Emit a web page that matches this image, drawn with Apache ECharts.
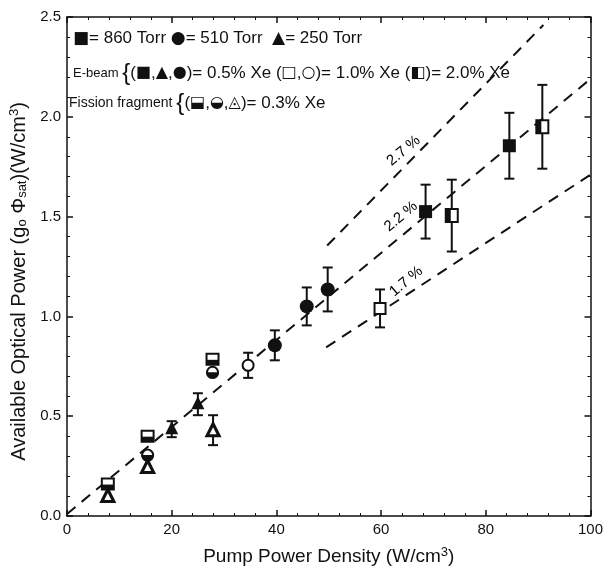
<!DOCTYPE html>
<html><head><meta charset="utf-8">
<script src="https://cdn.jsdelivr.net/npm/echarts@6/dist/echarts.min.js"></script>
<style>html,body{margin:0;padding:0;background:#fff}#c{width:606px;height:571px}</style>
</head><body><div id="c"></div>
<script>
// ---- data ----
// [x, y, errorHalfHeight]
const ebeamSquareFilled = [[68.5, 1.525, 0.135], [84.5, 1.855, 0.165]];      // 860 Torr, 0.5% Xe
const ebeamSquareOpen   = [[59.8, 1.04, 0.095]];                               // 860 Torr, 1.0% Xe
const ebeamSquareHalf   = [[73.5, 1.505, 0.18], [90.8, 1.95, 0.21]];          // 860 Torr, 2.0% Xe
const ebeamCircleFilled = [[39.7, 0.855, 0.075], [45.8, 1.05, 0.095], [49.8, 1.135, 0.11]]; // 510 Torr, 0.5%
const ebeamCircleOpen   = [[34.6, 0.755, 0.063]];                              // 510 Torr, 1.0%
const ebeamTriFilled    = [[20.0, 0.435, 0.04], [25.0, 0.56, 0.055]];          // 250 Torr, 0.5%
const fissionSquare     = [[7.8, 0.16, 0], [15.4, 0.40, 0], [27.8, 0.785, 0]];
const fissionCircle     = [[15.4, 0.305, 0], [27.8, 0.72, 0]];
const fissionTriangle   = [[7.8, 0.10, 0], [15.4, 0.245, 0], [27.9, 0.43, 0.075]];
// efficiency guide lines (end points)
const line27 = [[49.7, 1.355], [91, 2.46]];
const line22 = [[0, 0.01], [100, 2.19]];
const line17 = [[49.5, 0.845], [100, 1.71]];
// line labels [x, y, text]
const lineLabels = [[64.3, 1.83, '2.7 %'], [63.8, 1.50, '2.2 %'], [64.8, 1.175, '1.7 %']];
const xTicks = [0, 20, 40, 60, 80, 100];
const yTicks = ['0.0', '0.5', '1.0', '1.5', '2.0', '2.5'];

const FONT = '"Liberation Sans", Arial, sans-serif';
const SYMFONT = '"DejaVu Sans", sans-serif';
const INK = '#111';

function makeRender(kind) {
  return function (params, api) {
    const x = api.value(0), y = api.value(1), e = api.value(2);
    const c = api.coord([x, y]);
    const children = [];
    if (e > 0) {
      const top = api.coord([x, y + e]), bot = api.coord([x, y - e]);
      const cw = 5;
      children.push({type: 'line', shape: {x1: c[0], y1: top[1], x2: c[0], y2: bot[1]}, style: {stroke: INK, lineWidth: 2}});
      children.push({type: 'line', shape: {x1: c[0] - cw, y1: top[1], x2: c[0] + cw, y2: top[1]}, style: {stroke: INK, lineWidth: 2}});
      children.push({type: 'line', shape: {x1: c[0] - cw, y1: bot[1], x2: c[0] + cw, y2: bot[1]}, style: {stroke: INK, lineWidth: 2}});
    }
    const cx = c[0], cy = c[1];
    if (kind === 'sqFill') {
      children.push({type: 'rect', shape: {x: cx - 6.5, y: cy - 6.5, width: 13, height: 13}, style: {fill: INK}});
    } else if (kind === 'sqOpen') {
      children.push({type: 'rect', shape: {x: cx - 5.5, y: cy - 5.5, width: 11, height: 11}, style: {fill: '#fff', stroke: INK, lineWidth: 2}});
    } else if (kind === 'sqHalf') {
      children.push({type: 'rect', shape: {x: cx - 6, y: cy - 6.5, width: 12, height: 13}, style: {fill: '#fff', stroke: INK, lineWidth: 2}});
      children.push({type: 'rect', shape: {x: cx - 6, y: cy - 6.5, width: 5, height: 13}, style: {fill: INK}});
    } else if (kind === 'circFill') {
      children.push({type: 'circle', shape: {cx: cx, cy: cy, r: 7}, style: {fill: INK}});
    } else if (kind === 'circOpen') {
      children.push({type: 'circle', shape: {cx: cx, cy: cy, r: 5.5}, style: {fill: '#fff', stroke: INK, lineWidth: 2}});
    } else if (kind === 'triFill') {
      children.push({type: 'polygon', shape: {points: [[cx, cy - 8], [cx - 6.5, cy + 5], [cx + 6.5, cy + 5]]}, style: {fill: INK}});
    } else if (kind === 'sqFiss') {
      children.push({type: 'rect', shape: {x: cx - 6, y: cy - 5.5, width: 12, height: 11}, style: {fill: '#fff', stroke: INK, lineWidth: 2}});
      children.push({type: 'rect', shape: {x: cx - 6, y: cy + 0.5, width: 12, height: 5}, style: {fill: INK}});
    } else if (kind === 'circFiss') {
      children.push({type: 'circle', shape: {cx: cx, cy: cy, r: 5.5}, style: {fill: '#fff', stroke: INK, lineWidth: 2}});
      children.push({type: 'sector', shape: {cx: cx, cy: cy, r0: 0, r: 6.5, startAngle: 0, endAngle: Math.PI, clockwise: true}, style: {fill: INK}});
    } else if (kind === 'triFiss') {
      children.push({type: 'polygon', shape: {points: [[cx, cy - 10], [cx - 8.5, cy + 7], [cx + 8.5, cy + 7]]}, style: {fill: INK}});
      children.push({type: 'polygon', shape: {points: [[cx, cy - 3], [cx - 3.5, cy + 4], [cx + 3.5, cy + 4]]}, style: {fill: '#fff'}});
    }
    return {type: 'group', children: children};
  };
}

function markerSeries(data, kind) {
  return {type: 'custom', renderItem: makeRender(kind), data: data, z: 5,
          encode: {x: 0, y: 1}, clip: false, silent: true};
}
function dashSeries(data) {
  return {type: 'line', data: data, symbol: 'none', silent: true, z: 3,
          lineStyle: {color: INK, width: 2, type: [11, 8]}};
}

const chart = echarts.init(document.getElementById('c'), null, {renderer: 'canvas'});
const axisCommon = {
  axisLine: {show: true, onZero: false, lineStyle: {color: INK, width: 1.5}},
  splitLine: {show: false},
  axisTick: {inside: true, length: 6, lineStyle: {color: INK, width: 1.5}},
  minorTick: {show: true, splitNumber: 5, length: 3, lineStyle: {color: INK, width: 1}}
};
const legendRich = {
  t: {fontSize: 17, fontFamily: FONT, fill: INK},
  s: {fontSize: 13, fontFamily: FONT, fill: INK},
  s3: {fontSize: 14, fontFamily: FONT, fill: INK},
  b: {fontSize: 24, fontFamily: FONT, fill: INK},
  m: {fontSize: 17, fontFamily: FONT, fill: INK},
  y: {fontSize: 16, fontFamily: SYMFONT, fill: INK},
  y1: {fontSize: 17, fontFamily: SYMFONT, fill: INK}
};
chart.setOption({
  animation: false,
  backgroundColor: '#fff',
  grid: {left: 67, right: 8, top: 17, bottom: 54, containLabel: false},
  xAxis: [
    Object.assign({type: 'value', min: xTicks[0], max: xTicks[xTicks.length - 1], interval: 20, position: 'bottom',
      axisLabel: {color: INK, fontSize: 15, fontFamily: FONT, margin: 6, formatter: v => String(v)},
      name: '{a|Pump Power Density (W/cm}{sup|3}{a|)}', nameLocation: 'middle', nameGap: 30,
      nameTextStyle: {rich: {a: {fontSize: 19, fontFamily: FONT, color: INK}, sup: {fontSize: 13, fontFamily: FONT, color: INK, padding: [0, 0, 8, 0]}}}
    }, axisCommon),
    Object.assign({type: 'value', min: xTicks[0], max: xTicks[xTicks.length - 1], interval: 20, position: 'top',
      axisLabel: {show: false}}, axisCommon)
  ],
  yAxis: [
    Object.assign({type: 'value', min: 0, max: 2.5, interval: 0.5, position: 'left',
      axisLabel: {color: INK, fontSize: 15, fontFamily: FONT, margin: 6, formatter: v => yTicks[Math.round(v / 0.5)]},
      name: '{a|Available Optical Power (g}{sub|o}{a| Φ}{sub|sat}{a|)(W/cm}{sup|3}{a|)}',
      nameLocation: 'middle', nameGap: 36, nameRotate: 90,
      nameTextStyle: {padding: [0, 30, 0, 0], rich: {
        a: {fontSize: 20, fontFamily: FONT, color: INK},
        sub: {fontSize: 13, fontFamily: FONT, color: INK, padding: [7, 0, 0, 0]},
        sup: {fontSize: 13, fontFamily: FONT, color: INK, padding: [0, 0, 9, 0]}}}
    }, axisCommon),
    Object.assign({type: 'value', min: 0, max: 2.5, interval: 0.5, position: 'right',
      axisLabel: {show: false}}, axisCommon)
  ],
  graphic: [
    {type: 'text', left: 73, top: 30, style: {
      text: '{y1|■}{t|= 860 Torr }{y1|●}{t|= 510 Torr  }{y1|▲}{t|= 250 Torr}', rich: legendRich}},
    {type: 'text', left: 73, top: 61, style: {
      text: '{s|E-beam }{b|{}{m|(}{y|■}{m|,}{y|▲}{m|,}{y|●}{m|)= 0.5% Xe (}{y|□}{m|,}{y|○}{m|)= 1.0% Xe (}{y|◧}{m|)= 2.0% Xe}',
      rich: legendRich}},
    {type: 'text', left: 69, top: 91, style: {
      text: '{s3|Fission fragment }{b|{}{m|(}{y|⬓}{m|,}{y|◒}{m|,}{y|◬}{m|)= 0.3% Xe}',
      rich: legendRich}}
  ],
  series: [
    dashSeries(line27), dashSeries(line22), dashSeries(line17),
    {type: 'scatter', data: lineLabels.map(d => [d[0], d[1], d[2]]), symbolSize: 0, silent: true, z: 4,
     label: {show: true, position: 'inside', formatter: p => p.value[2], rotate: 40,
             fontSize: 15, fontFamily: FONT, color: '#000', opacity: 1, textBorderWidth: 0}},
    markerSeries(fissionSquare, 'sqFiss'),
    markerSeries(fissionCircle, 'circFiss'),
    markerSeries(fissionTriangle, 'triFiss'),
    markerSeries(ebeamTriFilled, 'triFill'),
    markerSeries(ebeamCircleOpen, 'circOpen'),
    markerSeries(ebeamCircleFilled, 'circFill'),
    markerSeries(ebeamSquareOpen, 'sqOpen'),
    markerSeries(ebeamSquareFilled, 'sqFill'),
    markerSeries(ebeamSquareHalf, 'sqHalf')
  ]
});
</script></body></html>
